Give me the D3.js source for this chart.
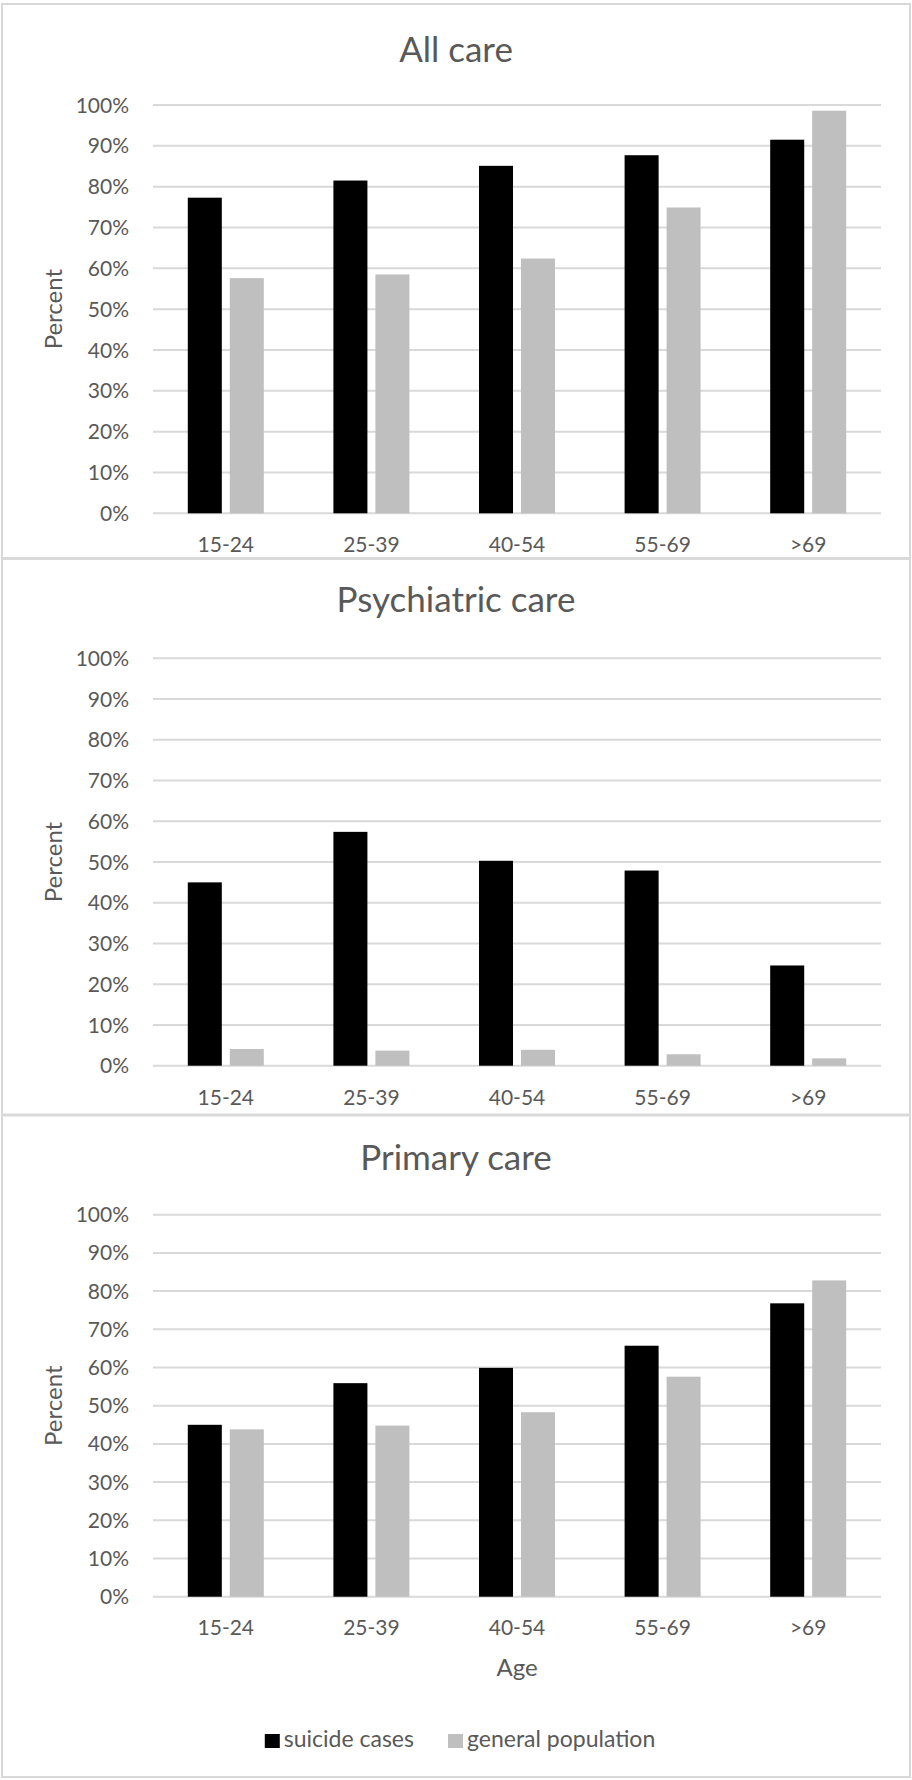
<!DOCTYPE html>
<html lang="en">
<head>
  <meta charset="UTF-8">
  <title>Health care use by age</title>
  <script src="https://d3js.org/d3.v7.min.js"></script>
  <style>
    body {
      margin: 0;
      background: #fff;
    }
    svg text {
      font-family: Lato, "Open Sans", sans-serif;
      fill: #595959;
    }
    .grid line {
      stroke: #d9d9d9;
      stroke-width: 2;
    }
    .panel {
      fill: #fff;
      stroke: #d9d9d9;
      stroke-width: 2;
    }
  </style>
</head>
<body>
  <svg width="912" height="1780"></svg>
  <script>
    const ageGroups = ["15-24", "25-39", "40-54", "55-69", ">69"];
    const seriesNames = ["suicide cases", "general population"];
    const seriesColors = ["#000000", "#bfbfbf"];
    const yTickValues = [0, 10, 20, 30, 40, 50, 60, 70, 80, 90, 100];

    const allCareSuicide = [77.3, 81.5, 85.1, 87.7, 91.5];
    const allCareGeneral = [57.6, 58.5, 62.4, 74.9, 98.6];
    const psychSuicide = [45.0, 57.4, 50.3, 47.9, 24.6];
    const psychGeneral = [4.1, 3.7, 3.9, 2.8, 1.8];
    const primarySuicide = [45.0, 55.9, 59.9, 65.7, 76.8];
    const primaryGeneral = [43.8, 44.8, 48.3, 57.6, 82.8];

    const panels = [
      { title: "All care", values: [allCareSuicide, allCareGeneral],
        box: [2, 4, 910, 558], plot: [105, 513.3], titleY: 62, labelY: 551.7 },
      { title: "Psychiatric care", values: [psychSuicide, psychGeneral],
        box: [2, 559, 910, 1114.5], plot: [658.3, 1065.7], titleY: 612, labelY: 1105 },
      { title: "Primary care", values: [primarySuicide, primaryGeneral],
        box: [2, 1115.5, 910, 1777], plot: [1214.7, 1596.7], titleY: 1170, labelY: 1635,
        xTitle: "Age", legend: true }
    ];

    const svg = d3.select("svg");
    const left = 153, right = 881;

    const x0 = d3.scaleBand()
      .domain(ageGroups)
      .range([left, right])
      .paddingInner(0.478)
      .paddingOuter(0.239);

    const x1 = d3.scaleBand()
      .domain(seriesNames)
      .range([0, x0.bandwidth()])
      .paddingInner(0.19);

    panels.forEach(p => {
      const g = svg.append("g");
      const [bx0, by0, bx1, by1] = p.box;
      g.append("rect").attr("class", "panel")
        .attr("x", bx0).attr("y", by0)
        .attr("width", bx1 - bx0).attr("height", by1 - by0);

      const y = d3.scaleLinear().domain([0, 100]).range([p.plot[1], p.plot[0]]);

      g.append("text")
        .attr("x", 456).attr("y", p.titleY)
        .attr("text-anchor", "middle")
        .style("font-size", "35px")
        .text(p.title);

      // gridlines
      g.append("g").attr("class", "grid")
        .selectAll("line")
        .data(yTickValues)
        .join("line")
        .attr("x1", left).attr("x2", right)
        .attr("y1", d => y(d)).attr("y2", d => y(d));

      // y tick labels
      g.append("g")
        .selectAll("text")
        .data(yTickValues)
        .join("text")
        .attr("x", 129)
        .attr("y", d => y(d))
        .attr("dy", "0.36em")
        .attr("text-anchor", "end")
        .style("font-size", "21px")
        .text(d => d + "%");

      g.append("text")
        .attr("transform", `translate(62,${(p.plot[0] + p.plot[1]) / 2}) rotate(-90)`)
        .attr("text-anchor", "middle")
        .style("font-size", "24px")
        .text("Percent");

      // bars
      const rows = ageGroups.map((a, i) => ({
        age: a,
        vals: seriesNames.map((s, j) => ({ s, j, v: p.values[j][i] }))
      }));

      g.append("g")
        .selectAll("g")
        .data(rows)
        .join("g")
        .attr("transform", d => `translate(${x0(d.age)},0)`)
        .selectAll("rect")
        .data(d => d.vals)
        .join("rect")
        .attr("x", d => x1(d.s))
        .attr("width", x1.bandwidth())
        .attr("y", d => y(d.v))
        .attr("height", d => y(0) - y(d.v))
        .attr("fill", d => seriesColors[d.j]);

      // category labels
      g.append("g")
        .selectAll("text")
        .data(ageGroups)
        .join("text")
        .attr("x", d => x0(d) + x0.bandwidth() / 2)
        .attr("y", p.labelY)
        .attr("text-anchor", "middle")
        .style("font-size", "21px")
        .text(d => d);

      if (p.xTitle) {
        g.append("text")
          .attr("x", (left + right) / 2).attr("y", 1676)
          .attr("text-anchor", "middle")
          .style("font-size", "24px")
          .text(p.xTitle);
      }

      if (p.legend) {
        const lg = g.append("g");
        let cx = 0;
        seriesNames.forEach((s, j) => {
          lg.append("rect")
            .attr("x", cx).attr("y", 1734)
            .attr("width", 15).attr("height", 14)
            .attr("fill", seriesColors[j]);
          const t = lg.append("text")
            .attr("x", cx + 19).attr("y", 1747)
            .style("font-size", "23px")
            .text(s);
          cx += 19 + t.node().getComputedTextLength() + 34;
        });
        const w = cx - 34;
        lg.attr("transform", `translate(${460 - w / 2},0)`);
      }
    });
  </script>
</body>
</html>
